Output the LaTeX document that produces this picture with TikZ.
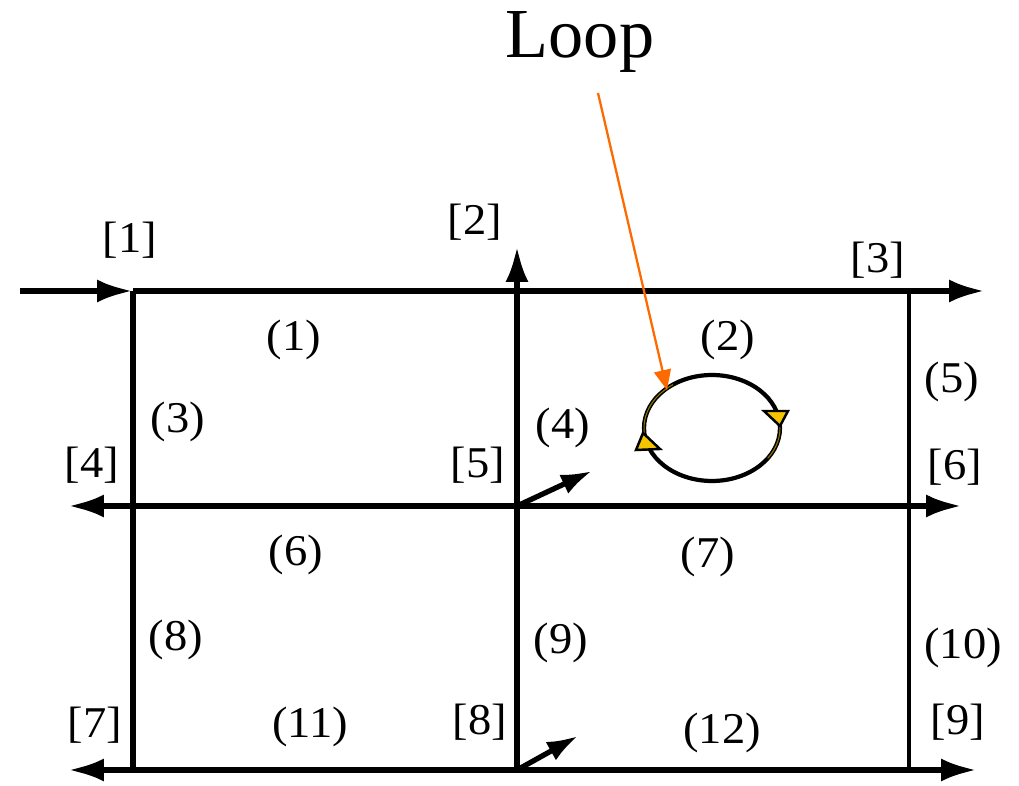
\documentclass[tikz,border=0pt]{standalone}
\usepackage{fontspec}
\setmainfont{Liberation Serif}
\usetikzlibrary{arrows.meta,positioning,calc}
\definecolor{looporange}{HTML}{FF6A00}
\definecolor{loopyellow}{HTML}{F5C400}

\begin{document}
\begin{tikzpicture}[x=0.02cm, y=-0.02cm,
  wire/.style={line width=3.4pt, draw=black},
  thinwire/.style={line width=2pt, draw=black},
  tip/.style={-{Latex[length=0.72cm,width=0.46cm]}},
  lbl/.style={font=\fontsize{25}{27}\selectfont, inner sep=0pt, xscale=1.06},
  cyc/.style={fill=loopyellow, draw=black, line width=1.4pt, line join=miter},
]
  \useasboundingbox (0,0) rectangle (1019,786);
  % junctions
  \coordinate (in) at (20,291);
  \coordinate (j1) at (133,291);
  \coordinate (j2) at (517,291);
  \coordinate (j3) at (909,291);
  \coordinate (o3) at (985,291);
  \coordinate (o2) at (517,246);
  \coordinate (j4) at (133,506);
  \coordinate (j5) at (517,506);
  \coordinate (j6) at (909,506);
  \coordinate (o4) at (68,506);
  \coordinate (o6) at (962,506);
  \coordinate (j7) at (133,770);
  \coordinate (j8) at (517,770);
  \coordinate (j9) at (909,770);
  \coordinate (o7) at (68,770);
  \coordinate (o9) at (977,770);
  \coordinate (d5) at (592,471);
  \coordinate (d8) at (578,736);
  % lines
  \draw[wire, tip] (in) -- (j1);
  \draw[wire, tip] (j1) -- (o3);
  \draw[wire, tip] (j8) -- (o2);
  \draw[wire] (j1) -- (j7);
  \draw[thinwire] (j3) -- (j9);
  \draw[wire, tip] (j5) -- (o4);
  \draw[wire, tip] (j5) -- (o6);
  \draw[wire, tip] (j8) -- (o7);
  \draw[wire, tip] (j8) -- (o9);
  \draw[line width=3pt, -{Latex[length=0.62cm,width=0.42cm]}] (j5) -- (d5);
  \draw[line width=3pt, -{Latex[length=0.62cm,width=0.42cm]}] (j8) -- (d8);
  % node labels
  \node[lbl] (n1) at (130,240) {[1]};
  \node[lbl] (n2) at (475,222) {[2]};
  \node[lbl] (n3) at (878,260) {[3]};
  \node[lbl] (n4) at (92,465) {[4]};
  \node[lbl] (n5) at (478,465) {[5]};
  \node[lbl] (n6) at (955,467) {[6]};
  \node[lbl] (n7) at (95,725) {[7]};
  \node[lbl] (n8) at (480,722) {[8]};
  \node[lbl] (n9) at (958,722) {[9]};
  % branch labels
  \node[lbl] (b1) at (294,340) {(1)};
  \node[lbl] (b2) at (728,340) {(2)};
  \node[lbl] (b3) at (178,422) {(3)};
  \node[lbl] (b4) at (563,428) {(4)};
  \node[lbl] (b5) at (952,382) {(5)};
  \node[lbl] (b6) at (296,555) {(6)};
  \node[lbl] (b7) at (708,557) {(7)};
  \node[lbl] (b8) at (176,640) {(8)};
  \node[lbl] (b9) at (561,643) {(9)};
  \node[lbl] (b10) at (963,648) {(10)};
  \node[lbl] (b11) at (310,727) {(11)};
  \node[lbl] (b12) at (722,733) {(12)};
  % loop
  \coordinate (lc) at (712,428);
  \draw[line width=2.4pt] (lc) ellipse [x radius=1.36cm, y radius=1.06cm];
  \draw[loopyellow!60!black, line width=0.6pt] ($(lc)+(125:1.36cm and 1.06cm)$) arc [start angle=125, end angle=200, x radius=1.36cm, y radius=1.06cm];
  \draw[loopyellow!60!black, line width=0.6pt] ($(lc)+(5:1.36cm and 1.06cm)$) arc [start angle=5, end angle=-35, x radius=1.36cm, y radius=1.06cm];
  \filldraw[cyc] (764,411) -- (788,411) -- (780,426) -- cycle;
  \filldraw[cyc] (643,433) -- (660,449) -- (636,450) -- cycle;
  \node[font=\fontsize{40}{44}\selectfont, inner sep=0pt] (loop) at (580,42) {Loop};
  \coordinate (ls) at (598,93);
  \coordinate (lp) at (667,390);
  \draw[looporange, line width=1.3pt, -{Triangle[length=0.4cm,width=0.34cm]}] (ls) -- (lp);
\end{tikzpicture}
\end{document}
